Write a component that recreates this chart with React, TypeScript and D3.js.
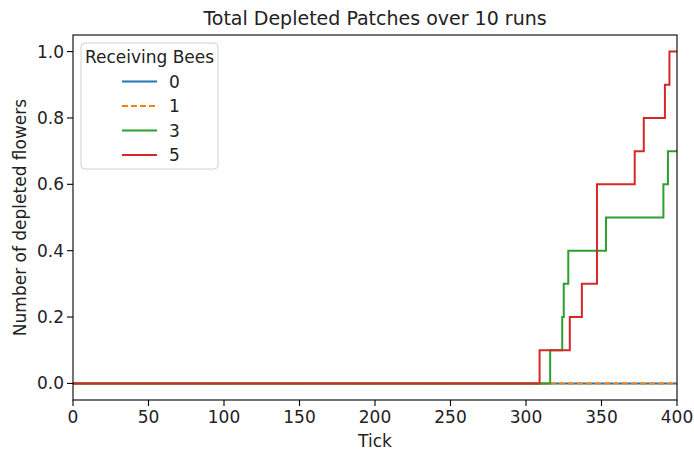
import React from "react";
import * as d3 from "d3";

const seriesNames = ["0", "1", "3", "5"];
const seriesColors = ["#1f77b4", "#ff7f0e", "#2ca02c", "#d62728"];
const seriesDash = ["", "6,3", "", ""];

// step change points: [tick, value]
const s0: [number, number][] = [[0, 0], [400, 0]];
const s1: [number, number][] = [[0, 0], [400, 0]];
const s3: [number, number][] = [
  [0, 0], [316, 0.1], [324, 0.2], [325, 0.3], [328, 0.4], [353, 0.5], [391, 0.6], [394, 0.7], [400, 0.7],
];
const s5: [number, number][] = [
  [0, 0], [309, 0.1], [329, 0.2], [337, 0.3], [347, 0.6], [372, 0.7], [378, 0.8], [392, 0.9], [395, 1.0], [400, 1.0],
];
const allSeries = [s0, s1, s3, s5];

const xTicks = [0, 50, 100, 150, 200, 250, 300, 350, 400];
const yTicks = [0, 0.2, 0.4, 0.6, 0.8, 1.0];

const W = 694, H = 452;
const L = 73, R = 677, T = 35, B = 400;
const FONT = "DejaVu Sans, sans-serif";

export default function App() {
  const x = d3.scaleLinear().domain([0, 400]).range([L, R]);
  const y = d3.scaleLinear().domain([-0.05, 1.05]).range([B, T]);
  const line = d3.line<[number, number]>().x(d => x(d[0])).y(d => y(d[1])).curve(d3.curveStepAfter);

  const legX = 81, legY = 43, legW = 137, legH = 126;
  const rowY = [81.5, 106, 130.5, 155];

  return (
    <svg width={W} height={H} style={{ position: "absolute", left: 0, top: 0, display: "block", background: "#fff" }} fontFamily={FONT}>
      <rect x={0} y={0} width={W} height={H} fill="#fff" />
      <defs>
        <clipPath id="plotclip"><rect x={L} y={T} width={R - L} height={B - T} /></clipPath>
      </defs>
      <g clipPath="url(#plotclip)">
        {allSeries.map((s, i) => (
          <path key={i} d={line(s) || ""} fill="none" stroke={seriesColors[i]} strokeWidth={2}
            strokeDasharray={seriesDash[i] || undefined} />
        ))}
      </g>
      <rect x={L} y={T} width={R - L} height={B - T} fill="none" stroke="#000" strokeWidth={1.1} />
      {xTicks.map(t => (
        <g key={t}>
          <line x1={x(t)} x2={x(t)} y1={B} y2={B + 6} stroke="#000" strokeWidth={1.1} />
          <text x={x(t)} y={B + 23} fontSize={17} textAnchor="middle" fill="#222">{t}</text>
        </g>
      ))}
      {yTicks.map(t => (
        <g key={t}>
          <line x1={L - 6} x2={L} y1={y(t)} y2={y(t)} stroke="#000" strokeWidth={1.1} />
          <text x={L - 9} y={y(t) + 6} fontSize={17} textAnchor="end" fill="#222">{t.toFixed(1)}</text>
        </g>
      ))}
      <text x={(L + R) / 2} y={447} fontSize={17} textAnchor="middle" fill="#222">Tick</text>
      <text transform={`translate(26,${(T + B) / 2}) rotate(-90)`} fontSize={17} textAnchor="middle" fill="#222">Number of depleted flowers</text>
      <text x={(L + R) / 2} y={25} fontSize={19} textAnchor="middle" fill="#222">Total Depleted Patches over 10 runs</text>
      <g>
        <rect x={legX} y={legY} width={legW} height={legH} rx={4} fill="#fff" fillOpacity={0.8} stroke="#d0d0d0" strokeWidth={1} />
        <text x={legX + legW / 2} y={63} fontSize={17} textAnchor="middle" fill="#222">Receiving Bees</text>
        {seriesNames.map((n, i) => (
          <g key={n}>
            <line x1={122} x2={157} y1={rowY[i]} y2={rowY[i]} stroke={seriesColors[i]} strokeWidth={2}
              strokeDasharray={seriesDash[i] || undefined} />
            <text x={169} y={rowY[i] + 6} fontSize={17} fill="#222">{n}</text>
          </g>
        ))}
      </g>
    </svg>
  );
}
